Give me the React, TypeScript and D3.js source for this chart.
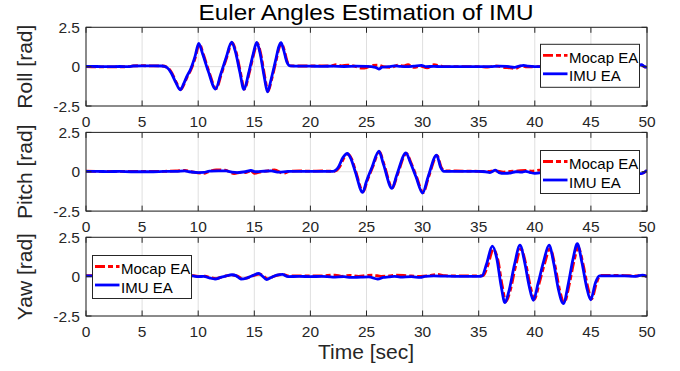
import React from "react";
import * as d3 from "d3";

type P = [number, number];

const xTicks = [0, 5, 10, 15, 20, 25, 30, 35, 40, 45, 50];
const yTicks = [-2.5, 0, 2.5];
const yTickLabels = ["-2.5", "0", "2.5"];
const panelLabels = ["Roll [rad]", "Pitch [rad]", "Yaw [rad]"];
const legendLabels = ["Mocap EA", "IMU EA"];
const titleText = "Euler Angles Estimation of IMU";
const xLabelText = "Time [sec]";

const rollImu: P[] = [
  [0, 0.02], [1, 0.01], [2, 0.0], [3, 0.01], [3.8, 0.0], [4.2, 0.04], [5, 0.05], [6, 0.05], [6.8, 0.04],
  [7.2, -0.05], [7.6, -0.4], [8.0, -1.0], [8.4, -1.47], [8.7, -1.1], [9.0, -0.6], [9.3, -0.2], [9.7, 0.6],
  [10.05, 1.48], [10.4, 0.8], [10.9, -0.3], [11.55, -1.42], [12.0, -0.5], [12.5, 0.6], [12.98, 1.56],
  [13.3, 1.0], [13.7, -0.3], [14.08, -1.45], [14.5, -0.4], [14.9, 0.8], [15.22, 1.54], [15.5, 0.9],
  [15.9, -0.7], [16.18, -1.6], [16.5, -0.8], [16.9, 0.4], [17.2, 1.3], [17.38, 1.52], [17.6, 1.1],
  [17.9, 0.3], [18.2, 0.05], [19, 0.03], [20, 0.03], [21, 0.02], [22, 0.03], [23, 0.01], [24, 0.03],
  [25, 0.02], [25.8, -0.05], [26.1, -0.15], [26.4, -0.03], [27, 0.0], [27.5, 0.05], [28, 0.02],
  [28.6, 0.0], [29.2, 0.03], [29.9, 0.08], [30.3, 0.0], [31, 0.02], [31.6, 0.0], [32, 0.0], [33, 0.0],
  [34, 0.0], [35, 0.0], [36, 0.0], [36.8, 0.03], [37.5, 0.02], [38.2, -0.04], [38.6, 0.03], [39, 0.08],
  [39.4, 0.03], [40, 0.0], [41, 0.01], [42, 0.0], [43, 0.0], [44, 0.01], [45, 0.0], [46, 0.01], [47, 0.0],
  [48, 0.0], [49, 0.02], [49.5, 0.12], [49.8, 0.0], [50, -0.05],
];

const rollMocap: P[] = [
  [0, 0.0], [1, -0.01], [2, -0.02], [3, -0.01], [3.8, 0.0], [4.2, 0.05], [5, 0.06], [6, 0.05], [6.8, 0.04],
  [7.25, -0.05], [7.65, -0.4], [8.05, -1.0], [8.45, -1.45], [8.75, -1.1], [9.05, -0.6], [9.35, -0.2],
  [9.75, 0.6], [10.1, 1.45], [10.45, 0.8], [10.95, -0.3], [11.6, -1.4], [12.05, -0.5], [12.55, 0.6],
  [13.03, 1.52], [13.35, 1.0], [13.75, -0.3], [14.12, -1.42], [14.55, -0.4], [14.95, 0.8], [15.27, 1.5],
  [15.55, 0.9], [15.95, -0.7], [16.22, -1.57], [16.55, -0.8], [16.95, 0.4], [17.25, 1.28], [17.42, 1.48],
  [17.65, 1.1], [17.95, 0.3], [18.25, 0.05], [19, 0.04], [20, 0.04], [21, 0.05], [21.8, 0.04],
  [22.3, 0.12], [22.8, 0.05], [23.3, 0.1], [24, 0.02], [24.6, -0.1], [25.0, -0.06], [25.5, 0.08],
  [26.0, 0.1], [26.5, 0.0], [27.2, -0.05], [27.8, 0.1], [28.3, 0.04], [28.7, 0.12], [29.2, -0.05],
  [29.8, 0.03], [30.4, -0.08], [31.0, 0.12], [31.5, 0.06], [32, 0.0], [33, 0.0], [34, 0.0], [35, 0.0],
  [35.8, -0.03], [36.5, 0.05], [37.2, -0.04], [37.8, -0.08], [38.3, -0.12], [38.8, 0.05], [39.3, -0.02],
  [40, 0.0], [41, 0.01], [42, 0.0], [43, 0.0], [44, 0.0], [45, 0.0], [46, 0.0], [47, 0.0], [48, 0.0],
  [49, 0.0], [49.5, 0.1], [49.8, -0.02], [50, -0.08],
];

const pitchImu: P[] = [
  [0, 0.02], [1, 0.02], [2, 0.01], [3, 0.02], [4, 0.0], [5, 0.0], [6, 0.0], [7, 0.02], [8, 0.02],
  [8.8, 0.06], [9.2, 0.0], [10.0, -0.05], [10.5, -0.04], [11.0, 0.04], [11.8, 0.06], [12.5, 0.05],
  [13.0, -0.02], [13.5, -0.05], [14.2, 0.0], [14.7, 0.08], [15.1, 0.0], [15.6, 0.02], [16.5, 0.05],
  [17.2, -0.03], [18, 0.02], [19, 0.02], [20, 0.02], [21, 0.02], [22.0, 0.02], [22.5, 0.3], [22.9, 0.9],
  [23.29, 1.16], [23.6, 0.85], [24.0, 0.0], [24.66, -1.31], [25.0, -0.6], [25.5, 0.3], [26.11, 1.31],
  [26.5, 0.5], [27.27, -1.05], [27.7, -0.2], [28.52, 1.2], [28.9, 0.6], [29.4, -0.3], [30.0, -1.35],
  [30.5, -0.3], [31.25, 1.06], [31.6, 0.3], [31.9, 0.03], [33, 0.02], [34, 0.02], [35, 0.02],
  [35.6, 0.0], [36.0, -0.05], [36.5, 0.1], [36.8, -0.05], [37.3, -0.1], [37.8, -0.08], [38.3, 0.0],
  [38.8, -0.03], [39.2, 0.03], [39.6, -0.05], [40.0, -0.1], [41, -0.03], [42, 0.0], [43, 0.0], [44, 0.0],
  [45, 0.0], [46, 0.0], [47, 0.0], [48, 0.0], [49, -0.05], [49.5, -0.12], [50, 0.1],
];

const pitchMocap: P[] = [
  [0, 0.04], [1, 0.03], [2, 0.03], [3, 0.02], [4, 0.03], [5, 0.02], [6, 0.03], [7, 0.03], [8, 0.05],
  [8.8, 0.08], [9.4, 0.0], [10.5, -0.1], [11.0, 0.02], [11.6, 0.12], [12.4, 0.1], [13.2, -0.12],
  [13.8, -0.04], [14.2, -0.06], [14.7, 0.05], [15.0, -0.1], [15.6, 0.0], [16.2, 0.06], [16.8, 0.12],
  [17.6, -0.1], [18.2, 0.04], [19, 0.05], [20, 0.04], [21, 0.05], [22.1, 0.03], [22.6, 0.3],
  [23.0, 0.9], [23.35, 1.12], [23.65, 0.85], [24.05, 0.0], [24.7, -1.28], [25.05, -0.6], [25.55, 0.3],
  [26.15, 1.27], [26.55, 0.5], [27.3, -1.02], [27.75, -0.2], [28.56, 1.16], [28.95, 0.6], [29.45, -0.3],
  [30.05, -1.32], [30.55, -0.3], [31.3, 1.03], [31.65, 0.3], [31.95, 0.05], [33, 0.05], [34, 0.04],
  [35, 0.03], [35.8, 0.02], [36.5, 0.06], [37.2, -0.02], [37.8, 0.02], [38.5, 0.05], [39.2, 0.08],
  [39.8, 0.04], [40.4, 0.1], [41, 0.02], [42, 0.0], [43, 0.0], [44, 0.0], [45, 0.0], [46, 0.0],
  [47, 0.0], [48, 0.0], [49, -0.03], [49.5, -0.1], [50, 0.08],
];

const yawImu: P[] = [
  [0, 0.05], [1, 0.05], [2, 0.05], [3, 0.05], [4, 0.05], [5, 0.04], [6, 0.04], [7, 0.04], [8, 0.04],
  [9.0, 0.04], [9.5, 0.05], [10, 0.0], [10.5, 0.02], [11, -0.08], [11.5, -0.15], [12, -0.05],
  [12.5, 0.05], [13, 0.12], [13.4, 0.05], [13.8, -0.15], [14.3, -0.1], [14.8, 0.05], [15.4, 0.2],
  [15.7, 0.05], [16.1, -0.18], [16.5, -0.05], [17, 0.1], [17.5, 0.15], [18, 0.0], [19, 0.02], [20, 0.0],
  [21, 0.02], [22, -0.03], [23, 0.0], [23.6, -0.05], [24.5, -0.03], [25.2, -0.02], [26, -0.15],
  [26.5, -0.05], [27, -0.02], [27.5, 0.02], [28, -0.03], [29, 0.0], [29.8, -0.05], [30.2, 0.02],
  [31, 0.05], [32, 0.03], [33, 0.02], [34, 0.02], [35, 0.02], [35.3, 0.05], [35.7, 0.8], [36.21, 1.94],
  [36.6, 1.2], [37.0, -0.6], [37.34, -1.65], [37.7, -0.9], [38.2, 0.8], [38.68, 2.0], [39.1, 0.9],
  [39.5, -0.6], [39.87, -1.5], [40.3, -0.4], [40.8, 1.0], [41.27, 2.0], [41.7, 0.8], [42.1, -0.8],
  [42.54, -1.71], [43.0, -0.4], [43.4, 1.1], [43.79, 2.09], [44.2, 0.9], [44.6, -0.6], [44.98, -1.47],
  [45.4, -0.4], [45.75, 0.05], [47, 0.05], [48, 0.05], [49, 0.02], [49.6, 0.1], [50, 0.0],
];

const yawMocap: P[] = [
  [0, 0.06], [1, 0.06], [2, 0.05], [3, 0.06], [4, 0.05], [5, 0.05], [6, 0.05], [7, 0.05], [8, 0.05],
  [9.0, 0.05], [9.6, 0.06], [10.1, 0.02], [10.6, 0.03], [11.1, -0.06], [11.6, -0.12], [12.1, -0.03],
  [12.6, 0.06], [13.1, 0.1], [13.5, 0.04], [13.9, -0.12], [14.4, -0.08], [14.9, 0.06], [15.5, 0.16],
  [15.8, 0.05], [16.2, -0.14], [16.6, -0.02], [17.1, 0.1], [17.6, 0.13], [18.1, 0.05], [19, 0.05],
  [20, 0.04], [21, 0.05], [22.2, 0.1], [22.8, 0.02], [23.5, 0.08], [24.3, 0.02], [25.0, 0.08],
  [25.6, 0.1], [26.3, 0.02], [27.0, 0.04], [27.6, 0.1], [28.3, 0.08], [29.0, 0.04], [29.8, 0.02],
  [30.5, 0.05], [31.3, 0.14], [32, 0.06], [33, 0.05], [34, 0.05], [35, 0.05], [35.4, 0.06],
  [35.8, 0.7], [36.3, 1.72], [36.7, 1.1], [37.1, -0.6], [37.42, -1.58], [37.8, -0.9], [38.3, 0.7],
  [38.76, 1.78], [39.2, 0.8], [39.6, -0.6], [39.95, -1.45], [40.4, -0.4], [40.9, 0.9], [41.35, 1.78],
  [41.8, 0.7], [42.2, -0.8], [42.62, -1.65], [43.1, -0.4], [43.5, 1.0], [43.87, 1.86], [44.3, 0.8],
  [44.7, -0.6], [45.06, -1.42], [45.5, -0.4], [45.85, 0.08], [47, 0.08], [48, 0.07], [49, 0.05],
  [49.6, 0.08], [50, 0.02],
];

const panelsData = [
  { imu: rollImu, mocap: rollMocap },
  { imu: pitchImu, mocap: pitchMocap },
  { imu: yawImu, mocap: yawMocap },
];

const W = 680;
const H = 371;
const left = 86;
const right = 647;
const tops = [27.3, 132.4, 237.3];
const ph = 78.7;
const legendPos: [number, number][] = [
  [540.5, 44.3],
  [540.5, 150.5],
  [92.5, 255.5],
];
const LW = 99;
const LH = 43;

const axisColor = "#262626";
const gridColor = "#dfdfdf";
const font = "'Liberation Sans', Arial, Helvetica, sans-serif";

export default function App() {
  const x = d3.scaleLinear().domain([0, 50]).range([left, right]);

  return (
    <svg
      width={W}
      height={H}
      viewBox={`0 0 ${W} ${H}`}
      style={{ position: "absolute", left: 0, top: 0, background: "#fff" }}
      fontFamily={font}
    >
      <rect x={0} y={0} width={W} height={H} fill="#fff" />
      <text x={366} y={20} textAnchor="middle" fontSize={22} fill="#000" textLength={335} lengthAdjust="spacingAndGlyphs">
        {titleText}
      </text>
      {panelsData.map((pd, i) => {
        const top = tops[i];
        const bottom = top + ph;
        const y = d3.scaleLinear().domain([-2.5, 2.5]).range([bottom, top]);
        const line = d3
          .line<P>()
          .x((d) => x(d[0]))
          .y((d) => y(d[1]))
          .curve(d3.curveMonotoneX);
        const [lx, ly] = legendPos[i];
        const clipId = `clip${i}`;
        return (
          <g key={i}>
            <defs>
              <clipPath id={clipId}>
                <rect x={left} y={top} width={right - left} height={ph} />
              </clipPath>
            </defs>
            {xTicks.map((t) => (
              <line key={"gx" + t} x1={x(t)} x2={x(t)} y1={top} y2={bottom} stroke={gridColor} strokeWidth={1} />
            ))}
            {yTicks.map((t) => (
              <line key={"gy" + t} x1={left} x2={right} y1={y(t)} y2={y(t)} stroke={gridColor} strokeWidth={1} />
            ))}
            <g clipPath={`url(#${clipId})`}>
              <path d={line(pd.mocap) || ""} fill="none" stroke="#ff0000" strokeWidth={2.8} strokeDasharray="10,3,5,3" />
              <path d={line(pd.imu) || ""} fill="none" stroke="#0000ff" strokeWidth={2.8} strokeLinejoin="round" />
            </g>
            {xTicks.map((t) => (
              <g key={"tx" + t}>
                <line x1={x(t)} x2={x(t)} y1={bottom} y2={bottom - 5.5} stroke={axisColor} strokeWidth={1} />
                <line x1={x(t)} x2={x(t)} y1={top} y2={top + 5.5} stroke={axisColor} strokeWidth={1} />
                <text x={x(t)} y={bottom + 20.5} textAnchor="middle" fontSize={15.5} fill={axisColor}>
                  {t}
                </text>
              </g>
            ))}
            {yTicks.map((t, j) => (
              <g key={"ty" + t}>
                <line x1={left} x2={left + 5.5} y1={y(t)} y2={y(t)} stroke={axisColor} strokeWidth={1} />
                <line x1={right} x2={right - 5.5} y1={y(t)} y2={y(t)} stroke={axisColor} strokeWidth={1} />
                <text x={80} y={y(t) + 5.5} textAnchor="end" fontSize={15.5} fill={axisColor}>
                  {yTickLabels[j]}
                </text>
              </g>
            ))}
            <rect x={left} y={top} width={right - left} height={ph} fill="none" stroke={axisColor} strokeWidth={1} />
            <text
              transform={`translate(32,${(top + bottom) / 2}) rotate(-90)`}
              textAnchor="middle"
              fontSize={21}
              fill={axisColor}
            >
              {panelLabels[i]}
            </text>
            <g>
              <rect x={lx} y={ly} width={LW} height={LH} fill="#fff" stroke={axisColor} strokeWidth={1} />
              <line x1={lx + 2.5} x2={lx + 27} y1={ly + 11} y2={ly + 11} stroke="#ff0000" strokeWidth={2.8} strokeDasharray="10,3,5,3" />
              <line x1={lx + 2.5} x2={lx + 27} y1={ly + 29.5} y2={ly + 29.5} stroke="#0000ff" strokeWidth={2.8} />
              <text x={lx + 28.5} y={ly + 18.5} fontSize={15} fill="#000">
                {legendLabels[0]}
              </text>
              <text x={lx + 28.5} y={ly + 37} fontSize={15} fill="#000">
                {legendLabels[1]}
              </text>
            </g>
          </g>
        );
      })}
      <text x={366} y={359} textAnchor="middle" fontSize={21} fill={axisColor}>
        {xLabelText}
      </text>
    </svg>
  );
}
